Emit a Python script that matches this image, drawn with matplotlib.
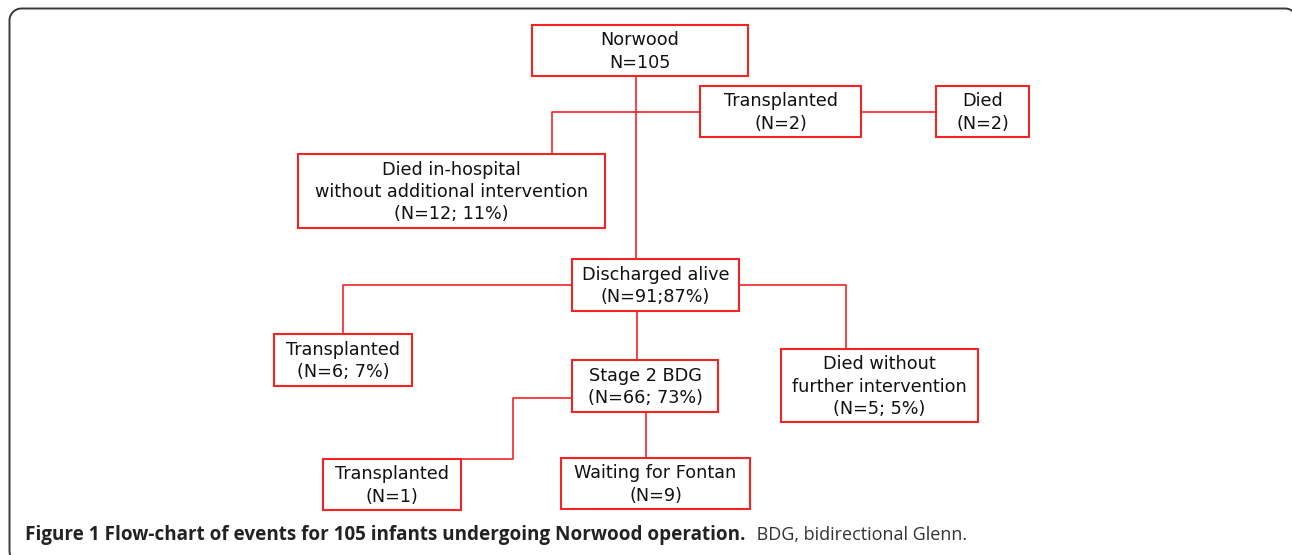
import matplotlib
matplotlib.use("Agg")
import numpy as np
import matplotlib.pyplot as plt
from matplotlib.patches import Rectangle

W, H = 1292, 555

# node labels
node_names = ["norwood", "tx_early", "died_tx", "died_hosp", "discharged",
              "tx_6", "bdg", "died_5", "tx_1", "fontan"]
node_labels = [
    "Norwood\nN=105",
    "Transplanted\n(N=2)",
    "Died\n(N=2)",
    "Died in-hospital\nwithout additional intervention\n(N=12; 11%)",
    "Discharged alive\n(N=91;87%)",
    "Transplanted\n(N=6; 7%)",
    "Stage 2 BDG\n(N=66; 73%)",
    "Died without\nfurther intervention\n(N=5; 5%)",
    "Transplanted\n(N=1)",
    "Waiting for Fontan\n(N=9)",
]
caption_bold = "Figure 1 Flow-chart of events for 105 infants undergoing Norwood operation."
caption_rest = " BDG, bidirectional Glenn."

# layout in pixels: x0, y0, x1, y1
BOX = {
    "norwood": (532, 25, 748, 76),
    "tx_early": (700, 86, 861, 137),
    "died_tx": (936, 86, 1029, 137),
    "died_hosp": (298, 154, 605, 228),
    "discharged": (572, 259, 739, 311),
    "tx_6": (274, 334, 412, 386),
    "bdg": (572, 360, 718, 412),
    "died_5": (781, 349, 978, 422),
    "tx_1": (323, 459, 461, 510),
    "fontan": (561, 458, 750, 509),
}
RED = "#f42424"
TXT = "#111111"


def top(n):
    return BOX[n][1]


def bottom(n):
    return BOX[n][3]


def left(n):
    return BOX[n][0]


def right(n):
    return BOX[n][2]


fig = plt.figure(figsize=(W / 100, H / 100), dpi=100)
ax = fig.add_axes([0, 0, 1, 1])
ax.set_xlim(0, W)
ax.set_ylim(H, 0)
ax.axis("off")

# outer frame: only the top and left edges show, rounded corners
r = 12
fx0, fy0, fx1, fy1 = 9.5, 8.5, 1297, 563
a = np.linspace(0, np.pi / 2, 20)
frame_x = np.concatenate([
    fx1 - r + r * np.sin(a[::-1]),
    fx0 + r - r * np.sin(a),
    fx0 + r - r * np.cos(a),
])
frame_y = np.concatenate([
    fy0 + r - r * np.cos(a[::-1]),
    fy0 + r - r * np.cos(a),
    fy1 - r + r * np.sin(a),
])
ax.plot(frame_x, frame_y, color="#3a3a3a", lw=1.4, clip_on=False)

# connectors
links = [
    [(636, bottom("norwood")), (636, top("discharged"))],
    [(552, top("died_hosp")), (552, 112), (left("tx_early"), 112)],
    [(right("tx_early"), 112), (left("died_tx"), 112)],
    [(left("discharged"), 285), (343, 285), (343, top("tx_6"))],
    [(right("discharged"), 285), (846, 285), (846, top("died_5"))],
    [(637, bottom("discharged")), (637, top("bdg"))],
    [(left("bdg"), 398), (513, 398), (513, top("tx_1")), (right("tx_1"), top("tx_1"))],
    [(646, bottom("bdg")), (646, top("fontan"))],
]
for pts in links:
    xs, ys = zip(*pts)
    ax.plot(xs, ys, color=RED, lw=1.2, solid_capstyle="butt", zorder=2)

for name, label in zip(node_names, node_labels):
    x0, y0, x1, y1 = BOX[name]
    ax.add_patch(Rectangle((x0, y0), x1 - x0, y1 - y0, fill=True, fc="white",
                           ec=RED, lw=1.5, zorder=3))
    ax.text((x0 + x1) / 2, (y0 + y1) / 2 + 1, label, ha="center", va="center",
            fontsize=12.7, family="DejaVu Sans", color=TXT, linespacing=1.29,
            zorder=4)

# caption
t1 = ax.text(25, 535, caption_bold, ha="left", va="center", fontsize=13.6,
             family="Open Sans", fontweight="bold", color="#222222")
fig.canvas.draw()
bb = t1.get_window_extent(fig.canvas.get_renderer())
x_end = ax.transData.inverted().transform((bb.x1, bb.y0))[0]
ax.text(x_end + 7, 535, caption_rest, ha="left", va="center", fontsize=13,
        family="Open Sans", color="#333333")

fig.savefig("out.png", dpi=100)
